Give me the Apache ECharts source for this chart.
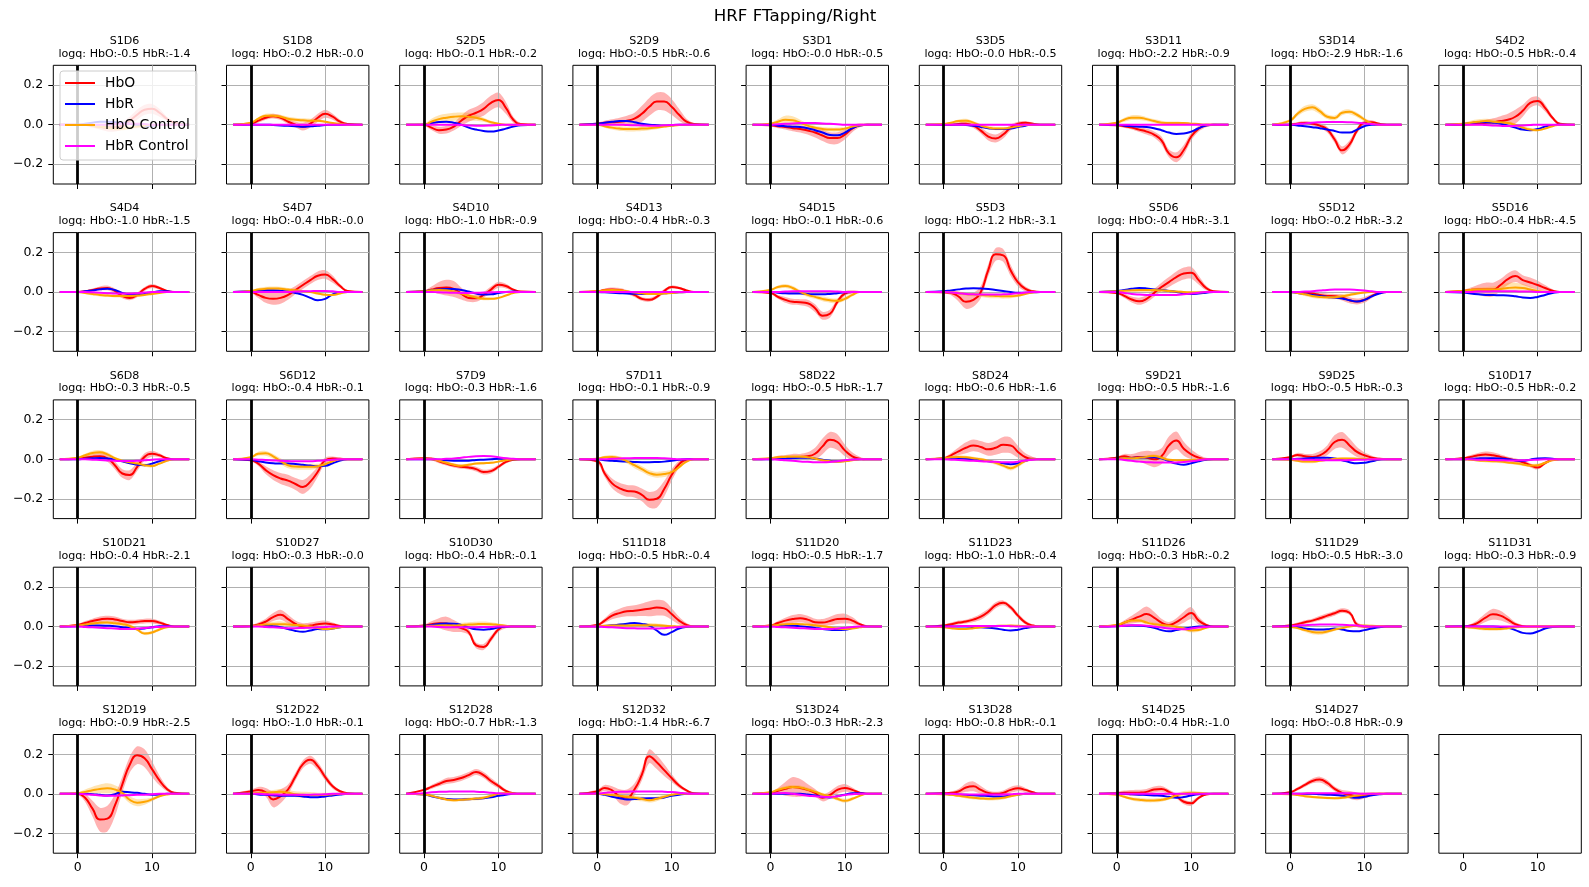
<!DOCTYPE html>
<html><head><meta charset="utf-8">
<script src="https://cdn.jsdelivr.net/npm/echarts@6/dist/echarts.min.js"></script>
<style>html,body{margin:0;padding:0;background:#fff}#c{width:1589px;height:887px}</style>
</head><body><div id="c"></div>
<script>
// sample times (s)
const xs = [-2.4,0,1,2,3,4,5,6,7,8,9,10,11,12,13,15];
const xTicks = [0,10];
const yTicks = [-0.2,0,0.2];
const seriesNames = ['HbO','HbR','HbO Control','HbR Control'];
const channels = ['S1D6','S1D8','S2D5','S2D9','S3D1','S3D5','S3D11','S3D14','S4D2',
 'S4D4','S4D7','S4D10','S4D13','S4D15','S5D3','S5D6','S5D12','S5D16',
 'S6D8','S6D12','S7D9','S7D11','S8D22','S8D24','S9D21','S9D25','S10D17',
 'S10D21','S10D27','S10D30','S11D18','S11D20','S11D23','S11D26','S11D29','S11D31',
 'S12D19','S12D22','S12D28','S12D32','S13D24','S13D28','S14D25','S14D27'];
const logqHbO = ['-0.5','-0.2','-0.1','-0.5','-0.0','-0.0','-2.2','-2.9','-0.5',
 '-1.0','-0.4','-1.0','-0.4','-0.1','-1.2','-0.4','-0.2','-0.4',
 '-0.3','-0.4','-0.3','-0.1','-0.5','-0.6','-0.5','-0.5','-0.5',
 '-0.4','-0.3','-0.4','-0.5','-0.5','-1.0','-0.3','-0.5','-0.3',
 '-0.9','-1.0','-0.7','-1.4','-0.3','-0.8','-0.4','-0.8'];
const logqHbR = ['-1.4','-0.0','-0.2','-0.6','-0.5','-0.5','-0.9','-1.6','-0.4',
 '-1.5','-0.0','-0.9','-0.3','-0.6','-3.1','-3.1','-3.2','-4.5',
 '-0.5','-0.1','-1.6','-0.9','-1.7','-1.6','-1.6','-0.3','-0.2',
 '-2.1','-0.0','-0.1','-0.4','-1.7','-0.4','-0.2','-3.0','-0.9',
 '-2.5','-0.1','-1.3','-6.7','-2.3','-0.1','-1.0','-0.9'];

const hbo = [
[0,0,0,-.005,-.01,-.015,-.015,-.005,.02,.05,.075,.08,.06,.03,.01,0],
[0,.005,.02,.035,.043,.035,.015,0,-.01,.005,.035,.055,.04,.015,.003,0],
[0,0,-.015,-.028,-.025,-.01,.02,.045,.06,.08,.11,.125,.085,.025,.003,0],
[0,.005,.01,.012,.015,.02,.03,.055,.09,.117,.117,.09,.05,.015,.003,0],
[0,-.003,-.008,-.012,-.018,-.022,-.03,-.04,-.055,-.068,-.068,-.05,-.02,-.003,0,0],
[0,0,0,.003,.005,-.005,-.03,-.06,-.07,-.05,-.015,.005,.01,.005,0,0],
[0,-.003,-.008,-.015,-.025,-.035,-.05,-.08,-.145,-.165,-.128,-.06,-.02,-.003,0,0],
[0,0,.005,.008,.005,-.005,-.025,-.075,-.13,-.1,-.03,.01,.012,.004,0,0],
[0,0,.003,.006,.01,.012,.018,.025,.04,.07,.11,.12,.085,.035,.005,0],
[0,0,.003,.01,.018,.02,.005,-.02,-.03,-.015,.015,.03,.02,.005,0,0],
[0,0,-.015,-.03,-.035,-.03,-.015,.01,.035,.06,.082,.088,.065,.03,.005,0],
[0,.003,.012,.02,.022,.015,-.008,-.03,-.032,-.015,.012,.036,.03,.012,.002,0],
[0,.003,.01,.013,.01,0,-.015,-.035,-.04,-.025,.005,.025,.02,.008,0,0],
[0,-.005,-.025,-.04,-.05,-.052,-.057,-.082,-.12,-.11,-.05,-.008,0,0,0,0],
[0,-.002,-.005,-.023,-.05,-.04,0,.11,.19,.185,.11,.048,.015,.003,0,0],
[0,-.005,-.02,-.038,-.047,-.035,-.005,.025,.05,.075,.093,.097,.06,.02,.003,0],
[0,0,0,-.003,-.008,-.015,-.02,-.022,-.028,-.042,-.048,-.04,-.02,-.005,0,0],
[0,.005,.01,.012,.012,.012,.035,.065,.08,.06,.048,.035,.02,.006,0,0],
[0,.003,.008,.013,.015,.005,-.03,-.072,-.08,-.038,.012,.028,.02,.005,0,0],
[0,-.005,-.022,-.055,-.08,-.097,-.108,-.125,-.14,-.113,-.063,-.005,.004,.002,0,0],
[0,.005,.003,-.01,-.022,-.032,-.038,-.042,-.05,-.065,-.06,-.038,-.013,-.002,0,0],
[0,-.01,-.072,-.122,-.147,-.16,-.163,-.18,-.205,-.2,-.15,-.08,-.025,-.003,0,0],
[0,.003,.008,.01,.012,.012,.015,.028,.065,.098,.087,.045,.015,.003,0,0],
[0,.005,.02,.04,.058,.07,.062,.05,.058,.073,.07,.037,.01,.002,0,0],
[0,.008,.015,.008,.012,.008,0,.015,.07,.095,.053,.025,.008,0,0,0],
[0,.01,.022,.015,.012,.02,.045,.087,.098,.07,.037,.02,.008,.002,0,0],
[0,.005,.012,.02,.024,.02,.012,.003,-.005,-.015,-.03,-.042,-.02,-.003,0,0],
[0,.008,.018,.028,.036,.04,.036,.028,.022,.024,.028,.028,.02,.008,0,0],
[0,.003,.01,.025,.048,.06,.038,.013,.002,.005,.012,.015,.01,.003,0,0],
[0,.005,.012,.017,.015,.003,-.008,-.028,-.095,-.103,-.062,-.015,0,0,0,0],
[0,.008,.03,.055,.068,.077,.08,.085,.09,.096,.092,.063,.03,.008,0,0],
[0,.005,.018,.03,.038,.042,.035,.022,.02,.028,.038,.04,.03,.012,.002,0],
[0,.005,.012,.02,.025,.035,.05,.075,.108,.12,.097,.055,.02,.005,0,0],
[0,.005,.02,.035,.05,.063,.045,.02,.008,.022,.047,.068,.03,.008,0,0],
[0,.005,.012,.022,.03,.042,.055,.067,.08,.07,.01,0,0,0,0,0],
[0,0,.005,.02,.045,.062,.055,.035,.012,.002,0,0,0,0,0,0],
[0,0,-.02,-.075,-.13,-.125,-.06,.047,.147,.195,.18,.125,.068,.025,.005,0],
[0,.012,.02,.008,-.028,-.012,.022,.088,.15,.172,.14,.085,.038,.013,.003,0],
[0,.02,.035,.05,.065,.07,.08,.095,.11,.095,.065,.04,.015,.003,0,0],
[0,.012,.03,.018,-.012,-.018,.022,.097,.19,.16,.12,.08,.042,.017,.003,0],
[0,.005,.015,.025,.035,.03,.02,.005,-.02,-.005,.02,.03,.02,.006,0,0],
[0,.003,.005,.012,.032,.038,.02,.005,0,.005,.02,.028,.02,.008,0,0],
[0,.003,.005,.005,.006,.01,.022,.025,.01,-.012,-.04,-.048,-.02,-.003,0,0],
[0,.008,.025,.045,.065,.072,.055,.025,.005,-.005,-.012,-.008,-.002,0,0,0]
];
const hbr = [
[0,0,.005,.01,.015,.015,.012,.008,.005,0,-.005,-.005,0,0,0,0],
[0,0,0,0,-.002,-.004,-.006,-.008,-.01,-.008,-.005,-.002,0,0,0,0],
[0,0,.008,.013,.015,.01,0,-.015,-.025,-.032,-.035,-.03,-.02,-.01,-.003,0],
[0,.005,.01,.015,.018,.018,.012,.005,0,-.003,-.005,-.003,0,0,0,0],
[0,0,-.005,-.008,-.01,-.012,-.018,-.028,-.04,-.052,-.054,-.04,-.018,-.004,0,0],
[0,0,0,0,-.002,-.005,-.012,-.018,-.022,-.022,-.02,-.012,-.005,0,0,0],
[0,0,-.005,-.008,-.01,-.012,-.018,-.028,-.04,-.047,-.045,-.035,-.018,-.005,0,0],
[0,0,-.004,-.008,-.013,-.018,-.024,-.032,-.04,-.04,-.025,-.008,0,0,0,0],
[0,.003,.008,.012,.012,.01,.005,-.005,-.015,-.025,-.028,-.022,-.01,-.003,0,0],
[0,0,.003,.008,.013,.016,.01,-.005,-.013,-.015,-.01,-.003,.003,.003,0,0],
[0,.003,.006,.008,.008,.006,.002,-.005,-.015,-.03,-.042,-.035,-.012,-.002,0,0],
[0,.003,.008,.012,.015,.015,.01,.002,-.008,-.013,-.012,-.006,0,.002,0,0],
[0,0,-.002,-.004,-.006,-.008,-.009,-.01,-.01,-.009,-.007,-.004,-.002,0,0,0],
[0,0,-.004,-.007,-.008,-.008,-.01,-.012,-.012,-.01,-.006,-.002,0,0,0,0],
[0,.003,.008,.013,.017,.019,.018,.015,.01,.005,0,-.004,-.004,-.002,0,0],
[0,.005,.01,.016,.02,.018,.013,.01,.005,0,-.007,-.01,-.008,-.004,0,0],
[0,0,-.005,-.01,-.015,-.02,-.025,-.028,-.033,-.042,-.048,-.04,-.022,-.008,0,0],
[0,-.003,-.008,-.012,-.015,-.016,-.017,-.018,-.022,-.028,-.03,-.025,-.015,-.005,0,0],
[0,0,.003,.005,.006,.004,-.002,-.01,-.02,-.028,-.03,-.022,-.01,-.002,0,0],
[0,-.003,-.01,-.016,-.02,-.022,-.022,-.024,-.028,-.032,-.035,-.033,-.02,-.007,0,0],
[0,0,0,-.003,-.005,-.007,-.008,-.007,-.004,-.002,0,.002,.002,0,0,0],
[0,0,-.005,-.008,-.01,-.012,-.014,-.015,-.015,-.014,-.012,-.008,-.003,0,0,0],
[0,0,.003,.005,.006,.007,.007,.003,-.003,-.008,-.01,-.008,-.003,0,0,0],
[0,.002,.005,.005,.003,0,-.004,-.01,-.015,-.02,-.025,-.02,-.008,0,0,0],
[0,.002,.004,.006,.008,.01,.01,.005,-.01,-.022,-.028,-.02,-.01,-.003,0,0],
[0,0,.002,.004,.006,.008,.008,.004,-.005,-.015,-.02,-.018,-.01,-.003,0,0],
[0,0,.002,.004,.005,.005,.004,0,-.006,-.008,-.002,.004,.005,.003,0,0],
[0,.002,.004,.005,.005,.004,.002,-.003,-.008,-.012,-.01,-.004,.002,.002,0,0],
[0,.002,.004,.004,.002,-.003,-.012,-.022,-.026,-.02,-.013,-.014,-.01,-.003,0,0],
[0,.003,.008,.013,.015,.014,.008,-.005,-.014,-.016,-.012,-.005,0,0,0,0],
[0,0,.003,.006,.01,.014,.018,.013,.005,-.02,-.042,-.028,-.01,-.002,0,0],
[0,.002,.004,.005,.004,.002,-.002,-.007,-.012,-.016,-.018,-.016,-.008,-.002,0,0],
[0,0,0,0,0,-.002,-.004,-.006,-.01,-.016,-.02,-.016,-.008,-.002,0,0],
[0,.002,.004,.005,.004,.001,-.006,-.018,-.024,-.018,-.01,-.005,0,0,0,0],
[0,0,-.003,-.01,-.014,-.015,-.014,-.01,-.015,-.022,-.024,-.018,-.01,-.003,0,0],
[0,0,0,0,0,0,-.002,-.006,-.018,-.032,-.035,-.025,-.01,-.002,0,0],
[0,0,0,-.002,-.005,-.008,-.002,.01,.008,.005,0,-.004,-.003,0,0,0],
[0,0,-.003,-.005,-.007,-.01,-.01,-.01,-.013,-.017,-.017,-.013,-.008,-.003,0,0],
[0,-.003,-.012,-.02,-.026,-.028,-.028,-.027,-.025,-.022,-.017,-.01,-.004,0,0,0],
[0,0,-.005,-.015,-.022,-.028,-.026,-.023,-.022,-.022,-.018,-.01,-.004,0,0,0],
[0,0,0,0,0,0,-.003,-.008,-.015,-.018,-.012,-.004,.003,.003,0,0],
[0,0,-.002,-.003,-.005,-.007,-.009,-.011,-.013,-.013,-.008,-.003,0,0,0,0],
[0,0,0,-.002,-.004,-.006,-.008,-.01,-.015,-.02,-.016,-.008,-.002,0,0,0],
[0,0,0,0,0,-.002,-.004,-.006,-.01,-.016,-.02,-.015,-.007,-.002,0,0]
];
const hboCtrl = [
[0,0,0,-.005,-.01,-.015,-.02,-.02,-.015,-.01,-.005,0,0,0,0,0],
[0,.01,.03,.045,.045,.04,.03,.025,.022,.02,.02,.015,.008,.003,0,0],
[0,0,.015,.028,.035,.04,.042,.04,.035,.025,.012,.005,0,0,0,0],
[0,0,-.008,-.015,-.02,-.022,-.022,-.02,-.018,-.015,-.01,-.005,-.002,0,0,0],
[0,.005,.015,.025,.022,.01,-.005,-.015,-.022,-.025,-.025,-.02,-.01,-.003,0,0],
[0,.003,.01,.018,.02,.01,-.005,-.015,-.02,-.02,-.015,-.008,-.002,0,0,0],
[0,.01,.025,.035,.035,.028,.018,.01,.008,.008,.008,.005,.003,0,0,0],
[0,.02,.055,.08,.088,.068,.04,.034,.06,.065,.05,.026,.005,0,0,0],
[0,.005,.01,.015,.018,.015,.012,.008,-.002,-.015,-.025,-.028,-.02,-.008,0,0],
[0,0,-.005,-.01,-.015,-.018,-.02,-.02,-.02,-.018,-.015,-.01,-.005,0,0,0],
[0,.005,.012,.016,.018,.016,.012,.008,.004,0,-.008,-.014,-.015,-.008,0,0],
[0,.003,.008,.01,.008,.002,-.008,-.018,-.028,-.034,-.035,-.03,-.018,-.006,0,0],
[0,.003,.008,.01,.008,.003,-.003,-.007,-.01,-.01,-.008,-.005,-.002,0,0,0],
[0,.01,.025,.03,.02,0,-.015,-.025,-.035,-.042,-.045,-.035,-.015,0,0,0],
[0,0,-.003,-.006,-.01,-.012,-.015,-.018,-.02,-.022,-.022,-.018,-.01,-.003,0,0],
[0,.003,.006,.008,.01,.01,.01,.008,.005,.002,0,-.002,-.002,0,0,0],
[0,0,-.005,-.012,-.02,-.025,-.027,-.027,-.022,-.015,-.008,-.003,0,0,0,0],
[0,.005,.01,.012,.012,.012,.015,.02,.022,.02,.012,.005,0,0,0,0],
[0,.008,.02,.032,.036,.025,.005,-.008,-.015,-.022,-.03,-.034,-.022,-.008,0,0],
[0,.01,.028,.03,.015,-.01,-.03,-.037,-.038,-.038,-.035,-.025,-.01,0,0,0],
[0,.002,0,-.008,-.018,-.028,-.033,-.028,-.022,-.02,-.018,-.012,-.005,0,0,0],
[0,.003,.01,.012,.005,-.01,-.03,-.05,-.07,-.078,-.075,-.065,-.04,-.012,0,0],
[0,.005,.01,.012,.013,.013,.01,.003,-.005,-.01,-.013,-.01,-.005,0,0,0],
[0,.005,.01,.012,.01,.005,0,-.008,-.018,-.032,-.045,-.03,-.008,0,0,0],
[0,.003,.005,.005,.008,.012,.017,.008,-.003,-.005,-.005,-.004,-.002,0,0,0],
[0,-.003,-.008,-.012,-.012,-.008,-.003,.002,.004,.004,.003,.002,0,0,0,0],
[0,0,-.003,-.006,-.008,-.01,-.012,-.016,-.02,-.026,-.032,-.03,-.018,-.005,0,0],
[0,.005,.01,.015,.019,.02,.017,.012,.003,-.015,-.035,-.03,-.015,-.003,0,0],
[0,.002,.006,.01,.012,.012,.01,.008,.005,0,-.008,-.013,-.01,-.003,0,0],
[0,.002,.004,.005,.005,.005,.007,.01,.012,.013,.012,.008,.004,0,0,0],
[0,.002,.004,.005,.005,.005,.006,.006,.006,.006,.004,.002,0,0,0,0],
[0,.004,.008,.012,.013,.012,.01,.006,.002,-.004,-.01,-.013,-.01,-.004,0,0],
[0,-.003,-.008,-.012,-.012,-.008,-.003,0,.003,.004,.005,.004,.002,0,0,0],
[0,.008,.02,.03,.03,.02,.012,.008,.005,-.002,-.01,-.02,-.018,-.006,0,0],
[0,-.002,-.008,-.018,-.027,-.03,-.025,-.015,-.008,0,.004,.005,.004,.002,0,0],
[0,-.002,-.005,-.008,-.012,-.013,-.012,-.008,-.004,-.002,0,0,0,0,0,0],
[0,.003,.01,.018,.025,.028,.022,.005,-.03,-.045,-.04,-.028,-.012,-.003,0,0],
[0,.002,.005,.006,.008,.01,.005,-.002,-.005,-.006,-.006,-.005,-.002,0,0,0],
[0,-.003,-.01,-.02,-.028,-.032,-.03,-.027,-.024,-.02,-.01,0,.004,.002,0,0],
[0,0,-.002,-.006,-.01,-.015,-.02,-.026,-.032,-.025,-.015,-.005,0,0,0,0],
[0,.008,.02,.03,.035,.032,.022,.01,-.003,-.012,-.025,-.035,-.025,-.01,0,0],
[0,-.002,-.005,-.01,-.015,-.02,-.023,-.025,-.024,-.02,-.012,-.005,0,0,0,0],
[0,-.005,-.015,-.025,-.03,-.033,-.033,-.03,-.022,-.008,.002,.005,.004,.002,0,0],
[0,-.002,-.006,-.012,-.016,-.019,-.021,-.022,-.02,-.015,-.008,-.003,0,0,0,0]
];
const hbrCtrl = [
[0,0,0,0,0,0,.003,.005,.005,.005,.003,0,0,0,0,0],
[0,0,0,0,0,0,0,0,0,0,0,0,0,0,0,0],
[0,0,0,0,0,0,-.002,-.004,-.005,-.005,-.004,-.002,0,0,0,0],
[0,0,0,0,0,-.002,-.003,-.004,-.005,-.005,-.003,-.002,0,0,0,0],
[0,0,.002,.004,.006,.008,.008,.008,.006,.004,.002,0,0,0,0,0],
[0,0,0,0,0,0,0,0,0,0,0,0,0,0,0,0],
[0,0,0,0,0,0,0,0,0,0,0,0,0,0,0,0],
[0,0,.003,.006,.01,.012,.013,.013,.013,.012,.01,.006,.003,0,0,0],
[0,0,0,0,-.002,-.004,-.006,-.007,-.006,-.004,-.002,0,0,0,0,0],
[0,0,0,-.002,-.004,-.006,-.008,-.008,-.008,-.006,-.003,0,0,0,0,0],
[0,0,0,0,0,0,0,.002,.003,.004,.005,.005,.003,0,0,0],
[0,0,0,-.002,-.003,-.004,-.005,-.005,-.004,-.003,-.002,0,0,0,0,0],
[0,0,0,0,0,0,0,0,0,0,0,0,0,0,0,0],
[0,0,0,.002,.003,.003,.003,.003,.003,.003,.002,0,0,0,0,0],
[0,0,-.003,-.006,-.01,-.012,-.013,-.013,-.013,-.012,-.01,-.007,-.003,0,0,0],
[0,0,-.005,-.01,-.013,-.015,-.016,-.016,-.016,-.015,-.012,-.008,-.004,0,0,0],
[0,0,0,.002,.004,.007,.01,.012,.012,.012,.01,.007,.003,0,0,0],
[0,0,0,.002,.002,.003,.003,.003,.003,.002,.002,0,0,0,0,0],
[0,0,0,-.002,-.004,-.006,-.008,-.009,-.009,-.008,-.005,-.002,0,0,0,0],
[0,0,-.002,-.004,-.006,-.008,-.009,-.01,-.01,-.01,-.008,-.005,-.002,0,0,0],
[0,0,0,0,.002,.004,.008,.012,.015,.016,.015,.01,.005,.002,0,0],
[0,0,0,.002,.004,.005,.006,.006,.006,.006,.005,.003,0,0,0,0],
[0,0,-.002,-.005,-.008,-.011,-.013,-.015,-.015,-.014,-.01,-.005,-.002,0,0,0],
[0,0,-.002,-.004,-.006,-.008,-.01,-.012,-.013,-.015,-.015,-.012,-.006,-.002,0,0],
[0,0,-.004,-.008,-.012,-.015,-.016,-.017,-.017,-.016,-.014,-.01,-.005,0,0,0],
[0,0,0,-.002,-.003,-.004,-.005,-.005,-.005,-.004,-.003,-.002,0,0,0,0],
[0,0,0,-.002,-.003,-.004,-.005,-.006,-.006,-.005,-.004,-.002,0,0,0,0],
[0,0,-.002,-.004,-.006,-.008,-.01,-.012,-.012,-.01,-.007,-.004,-.002,0,0,0],
[0,0,0,-.002,-.004,-.006,-.008,-.008,-.007,-.006,-.004,-.002,0,0,0,0],
[0,0,0,-.002,-.003,-.003,-.003,-.003,-.003,-.002,-.002,0,0,0,0,0],
[0,0,-.002,-.004,-.006,-.008,-.009,-.01,-.01,-.01,-.008,-.005,-.002,0,0,0],
[0,0,-.002,-.004,-.006,-.008,-.01,-.012,-.013,-.013,-.01,-.006,-.002,0,0,0],
[0,0,0,.002,.003,.003,.003,.003,.003,.003,.002,0,0,0,0,0],
[0,.002,.004,.006,.006,.004,0,-.005,-.01,-.013,-.014,-.01,-.005,-.002,0,0],
[0,.002,.005,.007,.009,.01,.01,.01,.009,.007,.005,.002,0,0,0,0],
[0,0,0,0,0,0,0,0,0,0,0,0,0,0,0,0],
[0,0,-.002,-.005,-.008,-.009,-.009,-.008,-.007,-.005,-.004,-.002,0,0,0,0],
[0,0,0,-.002,-.003,-.004,-.005,-.005,-.005,-.004,-.003,-.002,0,0,0,0],
[0,.003,.008,.01,.011,.012,.012,.012,.011,.009,.006,.003,.001,0,0,0],
[0,.002,.005,.008,.01,.011,.012,.012,.012,.012,.011,.009,.006,.002,0,0],
[0,0,.003,.004,0,-.005,-.009,-.012,-.015,-.016,-.012,-.006,-.002,0,0,0],
[0,0,0,-.002,-.003,-.003,-.003,-.003,-.003,-.003,-.002,0,0,0,0,0],
[0,0,0,0,0,0,0,0,0,0,0,0,0,0,0,0],
[0,0,0,.002,.003,.003,.003,.003,.003,.003,.002,0,0,0,0,0]
];
// half-widths of shaded error bands
const hboBand = [
[0,0,.005,.01,.015,.02,.02,.02,.02,.025,.025,.025,.02,.01,.005,0],
[0,.005,.01,.01,.012,.012,.012,.015,.02,.02,.02,.02,.015,.01,.005,0],
[0,.005,.012,.018,.02,.02,.025,.03,.03,.035,.037,.037,.03,.015,.005,0],
[0,.005,.01,.015,.02,.025,.03,.04,.045,.045,.045,.04,.03,.015,.005,0],
[0,.005,.01,.012,.015,.018,.02,.025,.028,.03,.03,.025,.018,.01,.004,0],
[0,.003,.005,.008,.01,.012,.015,.02,.02,.02,.015,.01,.008,.005,0,0],
[0,.005,.008,.01,.012,.015,.015,.02,.02,.025,.025,.02,.015,.01,.005,0],
[0,.005,.008,.01,.01,.012,.015,.018,.02,.02,.015,.012,.01,.005,.003,0],
[0,.005,.01,.012,.015,.02,.025,.03,.035,.03,.025,.022,.018,.01,.004,0],
[0,.003,.005,.008,.01,.012,.012,.012,.012,.012,.01,.01,.008,.005,.003,0],
[0,.005,.015,.025,.03,.03,.025,.02,.02,.02,.022,.022,.018,.01,.003,0],
[0,.005,.015,.03,.04,.04,.03,.02,.018,.015,.015,.015,.012,.006,.003,0],
[0,.003,.008,.01,.01,.01,.01,.01,.01,.01,.01,.008,.006,.004,.002,0],
[0,.005,.01,.015,.015,.015,.018,.02,.02,.02,.015,.012,.008,.004,0,0],
[0,.005,.012,.025,.035,.035,.03,.03,.032,.032,.028,.02,.012,.006,.003,0],
[0,.005,.01,.015,.018,.018,.02,.022,.025,.028,.03,.03,.022,.012,.004,0],
[0,.003,.005,.008,.01,.012,.012,.012,.015,.015,.015,.015,.01,.005,.003,0],
[0,.005,.012,.025,.035,.035,.03,.03,.03,.025,.025,.022,.015,.008,.003,0],
[0,.005,.01,.012,.015,.018,.02,.022,.025,.022,.018,.015,.01,.005,.002,0],
[0,.005,.012,.02,.025,.028,.03,.03,.035,.035,.025,.015,.01,.005,.002,0],
[0,.005,.008,.01,.01,.01,.01,.01,.012,.012,.012,.01,.008,.005,.002,0],
[0,.01,.018,.025,.028,.03,.03,.032,.04,.045,.04,.03,.018,.008,.003,0],
[0,.005,.01,.012,.015,.015,.02,.03,.04,.04,.04,.03,.02,.01,.003,0],
[0,.005,.012,.02,.028,.03,.03,.032,.035,.04,.04,.03,.02,.01,.003,0],
[0,.006,.012,.018,.025,.035,.04,.04,.045,.045,.035,.025,.015,.008,.003,0],
[0,.005,.01,.012,.015,.02,.025,.035,.04,.035,.025,.015,.01,.005,.002,0],
[0,.005,.01,.012,.015,.015,.012,.01,.01,.01,.01,.01,.008,.005,.002,0],
[0,.005,.01,.012,.015,.015,.015,.012,.012,.012,.012,.012,.01,.005,.002,0],
[0,.005,.01,.015,.02,.025,.022,.018,.015,.015,.015,.015,.01,.005,.002,0],
[0,.005,.015,.025,.035,.03,.02,.015,.015,.015,.015,.012,.008,.004,0,0],
[0,.005,.012,.018,.022,.025,.028,.032,.038,.04,.038,.03,.02,.01,.003,0],
[0,.005,.01,.015,.02,.022,.02,.018,.018,.022,.025,.025,.018,.008,.002,0],
[0,.005,.008,.01,.01,.012,.015,.015,.015,.012,.012,.012,.01,.005,.002,0],
[0,.005,.012,.02,.03,.038,.03,.02,.015,.02,.028,.03,.02,.008,.002,0],
[0,.005,.008,.01,.01,.012,.012,.012,.012,.012,.012,.008,.004,.002,0,0],
[0,.003,.008,.015,.022,.028,.025,.018,.01,.006,.003,.002,0,0,0,0],
[0,.005,.02,.04,.06,.065,.055,.04,.04,.045,.045,.04,.025,.012,.003,0],
[0,.01,.015,.022,.04,.035,.025,.02,.02,.02,.02,.018,.012,.006,.002,0],
[0,.005,.01,.012,.015,.015,.015,.015,.015,.015,.015,.012,.008,.004,.002,0],
[0,.01,.015,.02,.035,.04,.03,.03,.035,.035,.03,.02,.012,.006,.002,0],
[0,.005,.015,.035,.05,.045,.03,.02,.018,.018,.02,.02,.012,.005,.002,0],
[0,.003,.006,.012,.022,.025,.02,.012,.01,.012,.015,.015,.01,.004,0,0],
[0,.008,.012,.015,.015,.015,.015,.015,.012,.012,.012,.012,.008,.004,0,0],
[0,.005,.008,.01,.012,.015,.015,.012,.015,.02,.02,.015,.01,.005,0,0]
];
const hboCtrlBand = [
[0,0,.005,.008,.01,.01,.01,.01,.01,.008,.005,.003,0,0,0,0],
[0,.005,.008,.01,.01,.01,.01,.01,.01,.01,.008,.005,.003,0,0,0],
[0,.005,.015,.02,.02,.02,.02,.02,.015,.01,.008,.005,0,0,0,0],
[0,.003,.008,.01,.012,.012,.012,.012,.01,.008,.005,.003,0,0,0,0],
[0,.005,.012,.02,.02,.015,.01,.01,.01,.01,.01,.008,.005,0,0,0],
[0,.003,.005,.008,.01,.008,.008,.008,.008,.008,.005,.003,0,0,0,0],
[0,.005,.01,.012,.012,.01,.01,.01,.008,.008,.005,.003,0,0,0,0],
[0,.008,.012,.015,.015,.015,.012,.012,.012,.012,.012,.01,.005,.003,0,0],
[0,.005,.01,.012,.012,.012,.01,.01,.008,.008,.008,.005,.003,0,0,0],
[0,.003,.005,.008,.008,.008,.008,.008,.008,.008,.005,.003,0,0,0,0],
[0,.003,.008,.01,.01,.01,.008,.008,.006,.005,.005,.005,.003,0,0,0],
[0,.003,.005,.008,.008,.008,.008,.008,.008,.008,.006,.005,.003,0,0,0],
[0,.002,.004,.005,.005,.005,.005,.005,.005,.005,.004,.003,0,0,0,0],
[0,.005,.008,.01,.01,.01,.01,.01,.012,.012,.012,.01,.008,.004,0,0],
[0,.003,.005,.008,.008,.01,.01,.012,.012,.012,.01,.008,.005,.003,0,0],
[0,.003,.006,.008,.01,.01,.01,.01,.008,.006,.005,.003,0,0,0,0],
[0,.003,.005,.008,.01,.01,.01,.01,.01,.008,.006,.004,0,0,0,0],
[0,.005,.008,.01,.012,.015,.02,.025,.025,.02,.015,.008,.003,0,0,0],
[0,.005,.008,.01,.01,.01,.008,.008,.008,.008,.008,.008,.005,.003,0,0],
[0,.005,.01,.012,.012,.015,.015,.015,.015,.015,.012,.01,.005,.003,0,0],
[0,.003,.005,.006,.006,.006,.006,.006,.006,.006,.005,.004,.002,0,0,0],
[0,.005,.008,.01,.01,.012,.015,.015,.015,.015,.015,.012,.008,.004,0,0],
[0,.003,.006,.008,.008,.008,.008,.008,.008,.008,.006,.004,.002,0,0,0],
[0,.003,.005,.008,.008,.008,.008,.008,.01,.01,.012,.01,.008,.004,0,0],
[0,.003,.005,.005,.005,.008,.008,.008,.005,.005,.005,.003,0,0,0,0],
[0,.003,.006,.008,.008,.006,.005,.005,.005,.004,.003,.002,0,0,0,0],
[0,.003,.005,.006,.008,.008,.008,.008,.008,.008,.008,.008,.005,.003,0,0],
[0,.003,.005,.008,.008,.008,.008,.008,.008,.008,.008,.008,.006,.003,0,0],
[0,.003,.006,.01,.012,.015,.012,.008,.006,.006,.006,.006,.004,0,0,0],
[0,.003,.006,.008,.008,.01,.012,.012,.012,.012,.01,.008,.004,0,0,0],
[0,.003,.006,.008,.01,.012,.012,.012,.012,.01,.008,.005,.003,0,0,0],
[0,.003,.005,.006,.006,.006,.006,.006,.006,.006,.006,.006,.004,0,0,0],
[0,.003,.005,.005,.005,.005,.005,.005,.005,.005,.004,.003,0,0,0,0],
[0,.003,.006,.008,.008,.008,.008,.008,.008,.008,.01,.01,.008,.004,0,0],
[0,.003,.006,.01,.012,.012,.01,.008,.006,.005,.005,.004,.003,0,0,0],
[0,.003,.006,.008,.008,.008,.008,.006,.004,.003,0,0,0,0,0,0],
[0,.005,.012,.018,.022,.025,.022,.018,.018,.018,.015,.01,.005,.002,0,0],
[0,.003,.006,.01,.012,.015,.015,.015,.015,.015,.012,.01,.006,.003,0,0],
[0,.003,.005,.006,.008,.008,.008,.008,.008,.008,.006,.005,.003,0,0,0],
[0,.003,.005,.008,.01,.012,.012,.012,.012,.012,.01,.006,.003,0,0,0],
[0,.005,.008,.01,.01,.01,.01,.008,.008,.008,.01,.01,.008,.004,0,0],
[0,.003,.005,.006,.008,.008,.008,.008,.008,.008,.006,.004,0,0,0,0],
[0,.003,.006,.008,.01,.01,.01,.01,.008,.01,.012,.012,.008,.004,0,0],
[0,.003,.005,.006,.006,.006,.006,.006,.006,.006,.005,.003,0,0,0,0]
];

const COLORS = {hbo:'#ff0000', hbr:'#0000ff', hboC:'#ffa500', hbrC:'#ff00ff'};
const FONT = 'DejaVu Sans';
const GL = 53.3, GT = 65.3, GW = 142.4, GH = 118.7, DX = 173.2, DY = 167.3;
const NCOL = 9, NROW = 5;

const chart = echarts.init(document.getElementById('c'), null, {renderer:'canvas', width:1589, height:887});
const grid = [], xAxis = [], yAxis = [], series = [], graphic = [];
const pts = ys => xs.map((x, j) => [x, ys[j] ?? 0]);

// shaded band drawn through the axis scales (api.coord)
function bandSeries(i, ys, ws, color) {
  return {type: 'custom', xAxisIndex: i, yAxisIndex: i, silent: true, z: 1, animation: false,
    data: [[xs[0], ys[0]]],
    renderItem: (params, api) => {
      const up = xs.map((x, j) => api.coord([x, (ys[j] ?? 0) + (ws[j] ?? 0)]));
      const lo = [];
      for (let j = xs.length - 2; j >= 1; j--) lo.push(api.coord([xs[j], (ys[j] ?? 0) - (ws[j] ?? 0)]));
      return {type: 'polygon', shape: {points: up.concat(lo), smooth: 0.3}, style: {fill: color}};
    }};
}

for (let i = 0; i < NCOL * NROW; i++) {
  const r = Math.floor(i / NCOL), c = i % NCOL;
  const left = GL + DX * c, top = GT + DY * r;
  grid.push({left, top, width: GW, height: GH, show: true, borderColor: '#000', borderWidth: 1, backgroundColor: 'rgba(0,0,0,0)'});
  xAxis.push({type: 'value', gridIndex: i, min: -3.27, max: 15.87, position: 'bottom',
    axisLine: {show: false, onZero: false},
    axisTick: {show: true, customValues: xTicks, length: 5, lineStyle: {color: '#000', width: 1}},
    axisLabel: {show: r === NROW - 1, customValues: xTicks, margin: 8, fontSize: 12.5, fontFamily: FONT, color: '#000'},
    splitLine: {show: false}});
  yAxis.push({type: 'value', gridIndex: i, min: -0.3, max: 0.3, position: 'left',
    axisLine: {show: false, onZero: false},
    axisTick: {show: true, customValues: yTicks, length: 5, lineStyle: {color: '#000', width: 1}},
    axisLabel: {show: c === 0, customValues: yTicks, margin: 10, fontSize: 12.5, fontFamily: FONT, color: '#000',
      formatter: v => (v < 0 ? '\u2212' : '') + Math.abs(v).toFixed(1)},
    splitLine: {show: false}});
  if (i >= channels.length) continue;

  graphic.push({type: 'text', x: left + GW / 2, y: top - 30.3, silent: true,
    style: {text: channels[i] + '\nlogq: HbO:' + logqHbO[i] + ' HbR:' + logqHbR[i],
      align: 'center', verticalAlign: 'top', fontSize: 11.1, lineHeight: 12.5, fontFamily: FONT, fill: '#000'}});

  series.push(bandSeries(i, hbo[i], hboBand[i], 'rgba(255,0,0,0.3)'));
  series.push(bandSeries(i, hboCtrl[i], hboCtrlBand[i], 'rgba(255,165,0,0.3)'));

  const common = {xAxisIndex: i, yAxisIndex: i, smooth: true, symbol: 'none', showSymbol: false, silent: true, animation: false};
  // grid lines
  series.push(Object.assign({}, common, {type: 'line', data: [], z: 2,
    markLine: {silent: true, symbol: ['none', 'none'], label: {show: false}, animation: false, z: 2,
      emphasis: {disabled: true}, lineStyle: {color: '#b0b0b0', width: 1, type: 'solid'},
      data: xTicks.map(v => ({xAxis: v})).concat(yTicks.map(v => ({yAxis: v})))}}));

  const line = (name, ys, color) => series.push(Object.assign({}, common, {type: 'line', name, z: 3,
    data: pts(ys), lineStyle: {color, width: 2}, itemStyle: {color}, emphasis: {disabled: true}}));
  line(seriesNames[0], hbo[i], COLORS.hbo);
  line(seriesNames[1], hbr[i], COLORS.hbr);
  line(seriesNames[2], hboCtrl[i], COLORS.hboC);
  line(seriesNames[3], hbrCtrl[i], COLORS.hbrC);

  // stimulus onset
  series.push(Object.assign({}, common, {type: 'line', data: [], z: 10,
    markLine: {silent: true, symbol: ['none', 'none'], label: {show: false}, animation: false, z: 10,
      emphasis: {disabled: true}, lineStyle: {color: '#000', width: 2.8, type: 'solid'},
      data: [{xAxis: 0}]}}));
}

graphic.push({type: 'text', x: 795, y: 16.5, silent: true,
  style: {text: 'HRF FTapping/Right', align: 'center', verticalAlign: 'middle', fontSize: 16.7, fontFamily: FONT, fill: '#000'}});

chart.setOption({
  animation: false,
  backgroundColor: '#fff',
  grid, xAxis, yAxis, series, graphic,
  legend: {data: seriesNames, orient: 'vertical', left: 60, top: 71, icon: 'rect', itemWidth: 30, itemHeight: 2,
    itemGap: 5, padding: [4, 7, 6, 5], backgroundColor: 'rgba(255,255,255,0.8)', borderColor: '#cccccc',
    borderWidth: 1, borderRadius: 3, selectedMode: false, z: 20,
    textStyle: {fontSize: 13.9, fontFamily: FONT, color: '#000', lineHeight: 16, padding: [0, 0, 0, 5]}}
});
</script>
</body></html>
